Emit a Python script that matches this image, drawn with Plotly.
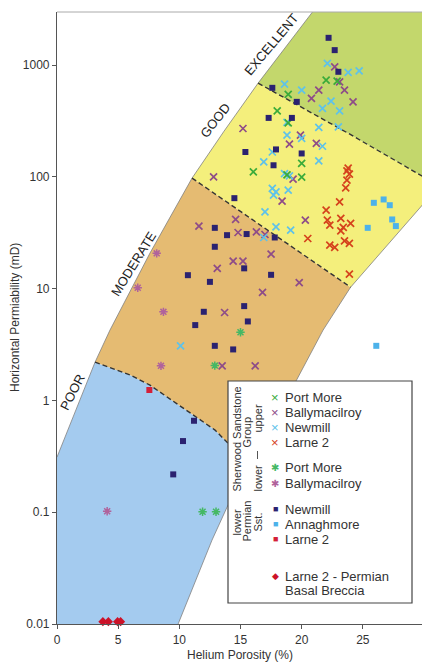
import plotly.graph_objects as go

# ---------------- data ----------------
# Upper Sherwood Sandstone Group
up_portmore_x = [22.0, 22.9, 18.9, 18.0, 18.9, 16.05, 20.0, 20.0, 18.8]
up_portmore_y = [733, 718, 546, 390, 304, 111, 132, 99.5, 104]

up_bally_x = [22.7, 23.1, 23.5, 21.4, 20.8, 24.2, 15.2, 19.9, 19.0, 21.2, 19.3, 18.4, 20.3, 16.3,
              17.0, 17.5, 19.8, 11.6, 14.6, 14.8, 13.1, 14.4, 15.2, 16.8, 13.7, 13.5, 16.2, 12.8]
up_bally_y = [964, 708, 597, 597, 503, 469, 271, 236, 196, 199, 95.5, 60.7, 41.0, 32.2,
              30.5, 20.4, 11.3, 36.3, 41.6, 31.8, 15.2, 17.6, 17.6, 9.25, 6.12, 2.04, 2.04, 100]

up_newmill_x = [22.1, 23.8, 24.7, 18.6, 20.0, 22.4, 21.7, 23.1, 21.4, 23.0, 18.8, 18.8, 20.0, 21.7,
                17.6, 16.9, 21.4, 18.6, 19.0, 17.6, 17.9, 17.7, 18.9, 17.0, 17.9, 19.1, 16.9, 10.1]
up_newmill_y = [1035, 860, 889, 676, 597, 476, 410, 390, 277, 280, 307, 236, 221, 188,
                167, 136, 139, 107, 102, 78.9, 73.5, 68.7, 76.1, 48.7, 35.7, 33.4, 28.7, 3.08]

up_larne_x = [23.7, 23.9, 23.8, 23.7, 23.6, 23.1, 22.0, 22.1, 22.3, 23.2, 24.0, 23.4, 23.2, 20.5,
              22.3, 22.7, 23.5, 23.9, 23.9]
up_larne_y = [113, 106, 120, 93.5, 79.8, 59.8, 50.4, 41.0, 37.0, 42.5, 38.3, 35.3, 32.9, 28.1,
              24.5, 23.4, 26.8, 25.4, 13.5]

# Lower Sherwood Sandstone Group
lo_portmore_x = [11.9, 13.0, 12.9, 15.0]
lo_portmore_y = [0.101, 0.101, 2.05, 4.08]

lo_bally_x = [8.15, 6.6, 8.7, 8.5, 4.1]
lo_bally_y = [20.7, 10.2, 6.2, 2.04, 0.102]

# Lower Permian Sandstone
perm_newmill_x = [22.2, 22.7, 23.0, 17.6, 19.6, 17.3, 19.2, 17.9, 20.0, 17.7, 15.4, 14.5, 17.8, 17.5,
                  12.9, 13.9, 15.5, 12.9, 15.3, 10.7, 12.5, 15.3, 12.0, 15.6, 11.3, 12.9, 14.4,
                  11.2, 10.3, 9.5]
perm_newmill_y = [1754, 1361, 871, 626, 469, 337, 337, 176, 162, 127, 167, 64.5, 28.7, 13.3,
                  35.0, 30.1, 30.8, 23.7, 15.2, 13.2, 11.5, 6.98, 6.21, 5.09, 4.72, 3.08, 2.86,
                  0.658, 0.433, 0.218]

perm_annag_x = [25.9, 26.7, 27.2, 27.4, 27.7, 25.4, 26.1]
perm_annag_y = [58.6, 62.8, 55.8, 41.6, 36.3, 35.0, 3.08]

perm_larne_x = [7.55]
perm_larne_y = [1.24]

breccia_x = [3.75, 4.2, 4.95, 5.2]
breccia_y = [0.0105, 0.0105, 0.0105, 0.0105]

# Reservoir-quality zone boundaries (porosity %, permeability mD)
outer_left_x = [0, 1.55, 3.11, 4.33, 7.6, 11.04, 13.65, 16.44, 18.64, 20.9]
outer_left_y = [0.311, 0.82, 2.2, 4.26, 20.8, 97.5, 256, 690, 1432, 3000]
outer_right_x = [9.9, 12.67, 13.9, 15.62, 19.62, 21.75, 24.0, 30]
outer_right_y = [0.01, 0.0563, 0.111, 0.259, 1.55, 4.26, 10.3, 58.2]
poor_mod_x = [3.11, 5.97, 7.6, 12.92, 13.87, 15.62]
poor_mod_y = [2.2, 1.69, 1.37, 0.543, 0.426, 0.259]
mod_good_x = [11.04, 17.83, 24.0]
mod_good_y = [97.5, 30.1, 10.3]
good_exc_x = [16.44, 23.79, 30]
good_exc_y = [690, 246, 99.5]

x_ticks = [0, 5, 10, 15, 20, 25, 30]
y_ticks = [0.01, 0.1, 1, 10, 100, 1000]
y_tick_text = ["0.01", "0.1", "1", "10", "100", "1000"]

# ---------------- style ----------------
FONT = "Arial, Liberation Sans, sans-serif"
C_GREEN_ZONE = "#c3d76c"
C_YELLOW_ZONE = "#f4ef7c"
C_ORANGE_ZONE = "#e5bb72"
C_BLUE_ZONE = "#a4cbef"

C_PM = "#3aab3a"
C_BALLY = "#8e4c88"
C_NEWMILL = "#5ec2ea"
C_LARNE = "#d5421c"
C_PM_LO = "#45b865"
C_BALLY_LO = "#b0639c"
C_NAVY = "#2b2270"
C_ANNAG = "#4db2ea"
C_LARNE_SQ = "#d41f38"
C_BRECCIA = "#cc1228"

fig = go.Figure()

# ---------------- zone polygons ----------------
iL_mod = outer_left_x.index(3.11)
iL_good = outer_left_x.index(11.04)
iL_exc = outer_left_x.index(16.44)
iR_pm = outer_right_x.index(15.62)
iR_mg = outer_right_x.index(24.0)

poly = {}
poly["exc"] = (outer_left_x[iL_exc:] + [30, 30] + good_exc_x[::-1],
               outer_left_y[iL_exc:] + [3000, good_exc_y[-1]] + good_exc_y[::-1])
poly["good"] = (outer_left_x[iL_good:iL_exc + 1] + good_exc_x[1:] + outer_right_x[iR_mg:][::-1] + mod_good_x[::-1],
                outer_left_y[iL_good:iL_exc + 1] + good_exc_y[1:] + outer_right_y[iR_mg:][::-1] + mod_good_y[::-1])
poly["mod"] = (outer_left_x[iL_mod:iL_good + 1] + mod_good_x[1:] + outer_right_x[iR_pm:iR_mg + 1][::-1] + poor_mod_x[::-1],
               outer_left_y[iL_mod:iL_good + 1] + mod_good_y[1:] + outer_right_y[iR_pm:iR_mg + 1][::-1] + poor_mod_y[::-1])
poly["poor"] = ([0] + outer_right_x[:iR_pm + 1] + poor_mod_x[::-1][1:] + outer_left_x[:iL_mod][::-1],
                [0.01] + outer_right_y[:iR_pm + 1] + poor_mod_y[::-1][1:] + outer_left_y[:iL_mod][::-1])

for key, col in [("poor", C_BLUE_ZONE), ("mod", C_ORANGE_ZONE), ("good", C_YELLOW_ZONE), ("exc", C_GREEN_ZONE)]:
    px_, py_ = poly[key]
    fig.add_trace(go.Scatter(x=px_, y=py_, mode="lines", fill="toself", fillcolor=col,
                             line=dict(width=0, color=col), hoverinfo="skip", showlegend=False))

for bx, by in [(outer_left_x, outer_left_y), (outer_right_x, outer_right_y)]:
    fig.add_trace(go.Scatter(x=bx, y=by, mode="lines", line=dict(color="#808080", width=0.8),
                             hoverinfo="skip", showlegend=False))
for bx, by in [(poor_mod_x, poor_mod_y), (mod_good_x, mod_good_y), (good_exc_x, good_exc_y)]:
    fig.add_trace(go.Scatter(x=bx, y=by, mode="lines", line=dict(color="#333333", width=1.4, dash="5px,3px"),
                             hoverinfo="skip", showlegend=False))

# ---------------- data markers ----------------
def xmark(x, y, c, name):
    fig.add_trace(go.Scatter(x=x, y=y, mode="markers", name=name, showlegend=False,
                             marker=dict(symbol="x-thin", size=7, line=dict(width=1.7, color=c))))

def astmark(x, y, c, name):
    fig.add_trace(go.Scatter(x=x, y=y, mode="markers", name=name, showlegend=False,
                             marker=dict(symbol="asterisk", size=7, line=dict(width=1.5, color=c))))

def sqmark(x, y, c, name, sym="square", size=6):
    fig.add_trace(go.Scatter(x=x, y=y, mode="markers", name=name, showlegend=False, cliponaxis=False,
                             marker=dict(symbol=sym, size=size, color=c, line=dict(width=0))))

xmark(up_bally_x, up_bally_y, C_BALLY, "Ballymacilroy (upper)")
xmark(up_newmill_x, up_newmill_y, C_NEWMILL, "Newmill (upper)")
xmark(up_portmore_x, up_portmore_y, C_PM, "Port More (upper)")
xmark(up_larne_x, up_larne_y, C_LARNE, "Larne 2 (upper)")
astmark(lo_portmore_x, lo_portmore_y, C_PM_LO, "Port More (lower)")
astmark(lo_bally_x, lo_bally_y, C_BALLY_LO, "Ballymacilroy (lower)")
sqmark(perm_newmill_x, perm_newmill_y, C_NAVY, "Newmill (Permian)")
sqmark(perm_annag_x, perm_annag_y, C_ANNAG, "Annaghmore (Permian)")
sqmark(perm_larne_x, perm_larne_y, C_LARNE_SQ, "Larne 2 (Permian)")
sqmark(breccia_x, breccia_y, C_BRECCIA, "Larne 2 - Permian Basal Breccia", sym="diamond", size=7)

# ---------------- layout ----------------
# the page body has an 8px margin, so the figure is sized to end at the window edge
OFF = 8
W, H = 430 - OFF, 665 - OFF
ML, MR, MT, MB = 57 - OFF, 6, 12 - OFF, 41
PW, PH = W - ML - MR, H - MT - MB

def px2paper(px, py):
    """window pixel -> paper coordinates"""
    return (px - OFF - ML) / PW, (H - MB - (py - OFF)) / PH

annotations = []
def ann(text, px, py, size=12, color="#333333", angle=0, xanchor="center", yanchor="middle"):
    ax, ay = px2paper(px, py)
    annotations.append(dict(text=text, x=ax, y=ay, xref="paper", yref="paper", showarrow=False,
                            textangle=angle, xanchor=xanchor, yanchor=yanchor,
                            font=dict(family=FONT, size=size, color=color)))

ann("Horizontal Permiability (mD)", 15, 318, size=12, angle=-90)
ann("Helium Porosity (%)", 240, 655, size=12)

ann("EXCELLENT", 271, 44, size=13, color="#222222", angle=-50)
ann("GOOD", 215, 120, size=13, color="#222222", angle=-52)
ann("MODERATE", 133, 264, size=13, color="#222222", angle=-58)
ann("POOR", 72, 392, size=13, color="#222222", angle=-63)

legend_items = [
    ("×", C_PM, "Port More", 397, 13),
    ("×", C_BALLY, "Ballymacilroy", 412.5, 13),
    ("×", C_NEWMILL, "Newmill", 427.5, 13),
    ("×", C_LARNE, "Larne 2", 442.5, 13),
    ("✱", C_PM_LO, "Port More", 467, 10),
    ("✱", C_BALLY_LO, "Ballymacilroy", 483, 10),
    ("■", C_NAVY, "Newmill", 509, 9),
    ("■", C_ANNAG, "Annaghmore", 524, 9),
    ("■", C_LARNE_SQ, "Larne 2", 539, 9),
    ("◆", C_BRECCIA, "Larne 2 - Permian", 576, 9),
]
for glyph, col, label, py, gsize in legend_items:
    ann(glyph, 275, py, size=gsize, color=col)
    ann(label, 283, py, size=13, color="#333333", xanchor="left")
ann("Basal Breccia", 283, 590, size=13, color="#333333", xanchor="left")

ann("Sherwood Sandstone", 236.5, 439, size=11, angle=-90)
ann("Group", 246.5, 432, size=11, angle=-90)
ann("upper", 257.5, 419, size=11, angle=-90)
ann("lower", 257.5, 478, size=11, angle=-90)
ann("lower", 236.5, 522, size=11, angle=-90)
ann("Permian", 246.5, 521, size=11, angle=-90)
ann("Sst.", 257.5, 522, size=11, angle=-90)

bx0, by0 = px2paper(228, 603)
bx1, by1 = px2paper(412, 381)
sx, sy0 = px2paper(257.5, 459)
_, sy1 = px2paper(257.5, 451)
shapes = [
    dict(type="rect", xref="paper", yref="paper", x0=bx0, y0=by0, x1=bx1, y1=by1,
         line=dict(color="#444444", width=1.2), fillcolor="white", layer="above"),
    dict(type="line", xref="paper", yref="paper", x0=sx, y0=sy0, x1=sx, y1=sy1,
         line=dict(color="#555555", width=1), layer="above"),
    dict(type="line", xref="paper", yref="paper", x0=0, y0=1, x1=1, y1=1,
         line=dict(color="#aaaaaa", width=1)),
    dict(type="line", xref="paper", yref="paper", x0=1, y0=0, x1=1, y1=1,
         line=dict(color="#aaaaaa", width=1)),
]

fig.update_layout(
    width=W, height=H, autosize=False,
    margin=dict(l=ML, r=MR, t=MT, b=MB),
    paper_bgcolor="white", plot_bgcolor="white",
    showlegend=False,
    font=dict(family=FONT, size=12, color="#333333"),
    xaxis=dict(range=[0, 30], tickvals=x_ticks, ticks="outside", ticklen=4, tickcolor="#555555",
               showline=True, linecolor="#555555", linewidth=1.2, showgrid=False, zeroline=False,
               tickfont=dict(family=FONT, size=12, color="#333333")),
    yaxis=dict(type="log", range=[-2, 3.475], tickvals=y_ticks, ticktext=y_tick_text,
               ticks="outside", ticklen=4, tickcolor="#555555",
               showline=True, linecolor="#555555", linewidth=1.2, showgrid=False, zeroline=False,
               tickfont=dict(family=FONT, size=12, color="#333333")),
    annotations=annotations,
    shapes=shapes,
)

fig.write_html("out.html")
